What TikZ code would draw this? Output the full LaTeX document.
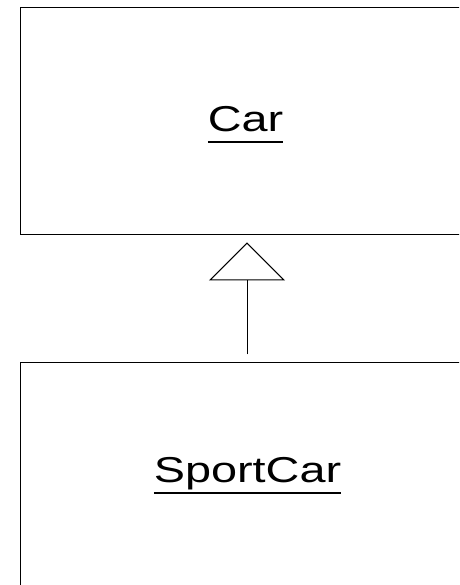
\documentclass[tikz,border=0pt]{standalone}
\usepackage{fontspec}
\setmainfont{Liberation Sans}
\usetikzlibrary{arrows.meta}
\newcommand\ulabel[1]{\setbox0\hbox{\scalebox{1.3}[1]{#1}}\rlap{\rule[-11pt]{\wd0}{1.8pt}}\box0}
\tikzset{
  classbox/.style={draw=black, line width=1pt, rectangle, inner sep=0pt, minimum width=453pt},
  classname/.style={anchor=base, inner sep=0pt, font=\fontsize{36}{40}\selectfont},
  inherit/.style={line width=1pt, -{Triangle[open, length=38pt, width=76pt, line join=miter]}}
}
\begin{document}
\begin{tikzpicture}[x=1pt,y=1pt]
\useasboundingbox (0,0) rectangle (459,585);
\clip (0,0) rectangle (459,585);
\node[classbox, minimum height=226.8pt] (car) at (247,464.1) {};
\node[classbox, minimum height=240pt] (sport) at (247,102) {};
\node[classname] (carlabel) at (245.5,453.3) {\ulabel{Car}};
\node[classname] (sportlabel) at (247.5,102) {\ulabel{SportCar}};
\draw[inherit, shorten <=8pt, shorten >=7.7pt] (sport.north) -- (car.south);
\end{tikzpicture}
\end{document}
